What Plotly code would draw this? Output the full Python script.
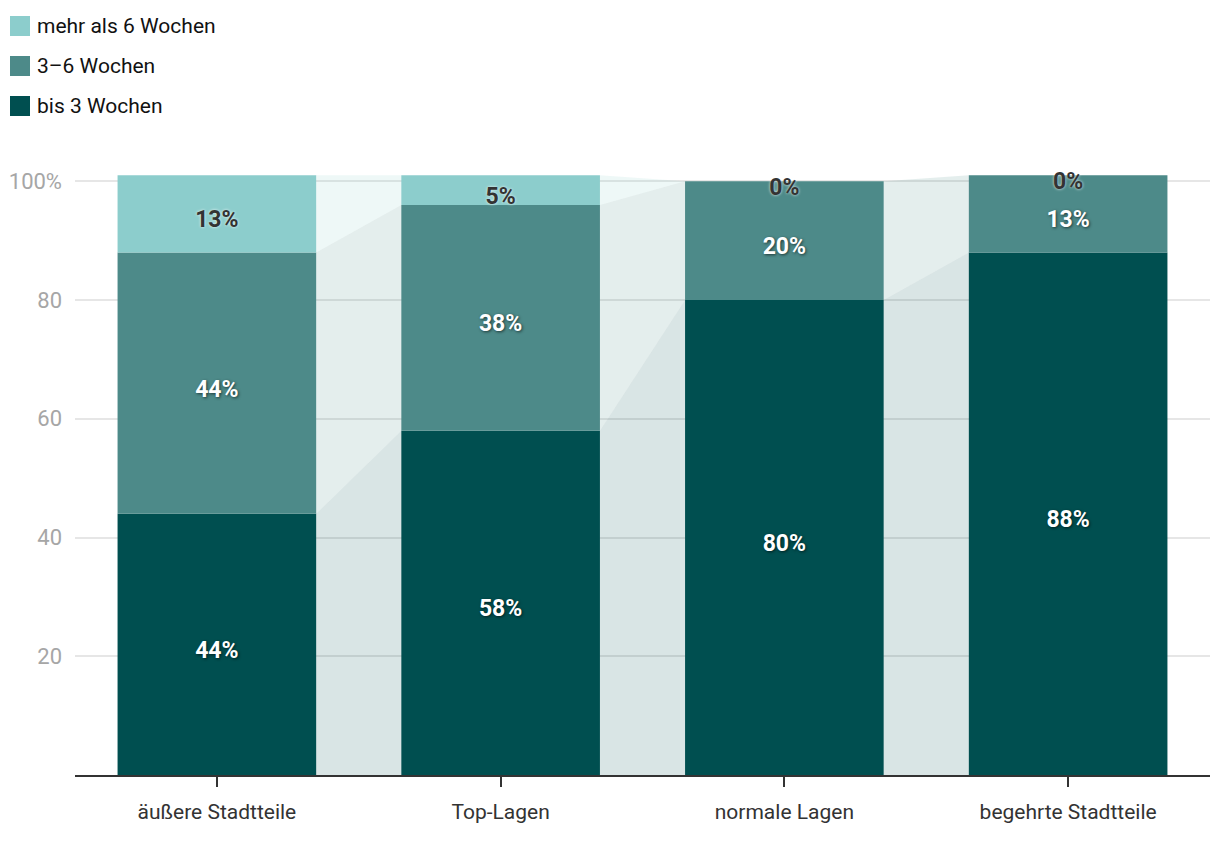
import plotly.graph_objects as go

categories = ["äußere Stadtteile", "Top-Lagen", "normale Lagen", "begehrte Stadtteile"]
series_names = ["bis 3 Wochen", "3–6 Wochen", "mehr als 6 Wochen"]
bis3 = [44, 58, 80, 88]
w3_6 = [44, 38, 20, 13]
mehr6 = [13, 5, 0, 0]
series_values = [bis3, w3_6, mehr6]
colors = ["#004f50", "#4d8a89", "#8ccdcc"]
connector_colors = ["rgba(0,79,80,0.15)", "rgba(77,138,137,0.15)", "rgba(140,205,204,0.15)"]
y_tickvals = [20, 40, 60, 80, 100]
y_ticktext = ["20", "40", "60", "80", "100%"]

FONT = "Roboto"
BAR_W = 0.7
hw = BAR_W / 2
xs = list(range(len(categories)))

# cumulative bases
bases = []
acc = [0] * len(categories)
for vals in series_values:
    bases.append(acc[:])
    acc = [a + v for a, v in zip(acc, vals)]

fig = go.Figure()

# connectors between bars
for s, vals in enumerate(series_values):
    for i in range(len(categories) - 1):
        b0, t0 = bases[s][i], bases[s][i] + vals[i]
        b1, t1 = bases[s][i + 1], bases[s][i + 1] + vals[i + 1]
        fig.add_trace(go.Scatter(
            x=[i + hw, i + hw, i + 1 - hw, i + 1 - hw, i + hw],
            y=[b0, t0, t1, b1, b0],
            mode="lines", fill="toself", fillcolor=connector_colors[s],
            line=dict(width=0), hoverinfo="skip", showlegend=False))

# bars
for s, vals in enumerate(series_values):
    fig.add_trace(go.Bar(
        x=xs, y=vals, base=bases[s], width=BAR_W, name=series_names[s],
        marker=dict(color=colors[s], line=dict(width=0)), showlegend=False))

# labels
for s, vals in enumerate(series_values):
    for i, v in enumerate(vals):
        dark = (s == 2) or v == 0
        fig.add_trace(go.Scatter(
            x=[i], y=[bases[s][i] + v / 2 - 1.3], mode="text", text=[f"{v}%"],
            textposition="middle center",
            textfont=dict(family=FONT, size=23, weight="bold",
                          color="#333333" if dark else "#ffffff",
                          shadow="0px 0px 3px rgba(255,255,255,0.9)" if dark else "1px 1px 3px rgba(0,0,0,0.6)"),
            hoverinfo="skip", showlegend=False))

# page offset (body margin 8px) compensated in figure size/margins
W, H = 1212, 834
PL, PR, PT, PB = 67, 10, 162, 67
pw, ph = W - PL - PR, H - PT - PB
OFF = 8
def px2x(px):
    return (px - OFF - PL) / pw
def px2y(py):
    return (H - PB - (py - OFF)) / ph

legend_order = [2, 1, 0]
for k, s in enumerate(legend_order):
    cy = 26 + 40 * k
    fig.add_shape(type="rect", xref="paper", yref="paper",
                  x0=px2x(10), x1=px2x(30), y0=px2y(cy + 10), y1=px2y(cy - 10),
                  fillcolor=colors[s], line=dict(width=0))
    fig.add_annotation(xref="paper", yref="paper", x=px2x(35), y=px2y(cy),
                       xanchor="left", yanchor="middle", showarrow=False,
                       text=series_names[s], font=dict(family=FONT, size=21, color="#111111"))

fig.update_layout(
    width=W, height=H,
    margin=dict(l=PL, r=PR, t=PT, b=PB, pad=0, autoexpand=False),
    plot_bgcolor="white", paper_bgcolor="white",
    barmode="overlay", showlegend=False,
    font=dict(family=FONT),
    xaxis=dict(range=[-0.5, 3.5], tickvals=xs, ticktext=categories, automargin=False,
               showgrid=False, zeroline=False, showline=True, linecolor="#333333", linewidth=2,
               ticks="outside", ticklen=10, tickwidth=2, tickcolor="#333333", ticklabelstandoff=7,
               tickfont=dict(family=FONT, size=21, color="#333333"), fixedrange=True),
    yaxis=dict(range=[0, 101.9], tickvals=y_tickvals, ticktext=y_ticktext, automargin=False,
               showgrid=True, gridcolor="#e6e6e6", gridwidth=2, zeroline=False,
               showline=False, ticks="", ticklabelstandoff=12,
               tickfont=dict(family=FONT, size=22, color="#a6a6a6"), fixedrange=True),
)

fig.write_html("out.html")
